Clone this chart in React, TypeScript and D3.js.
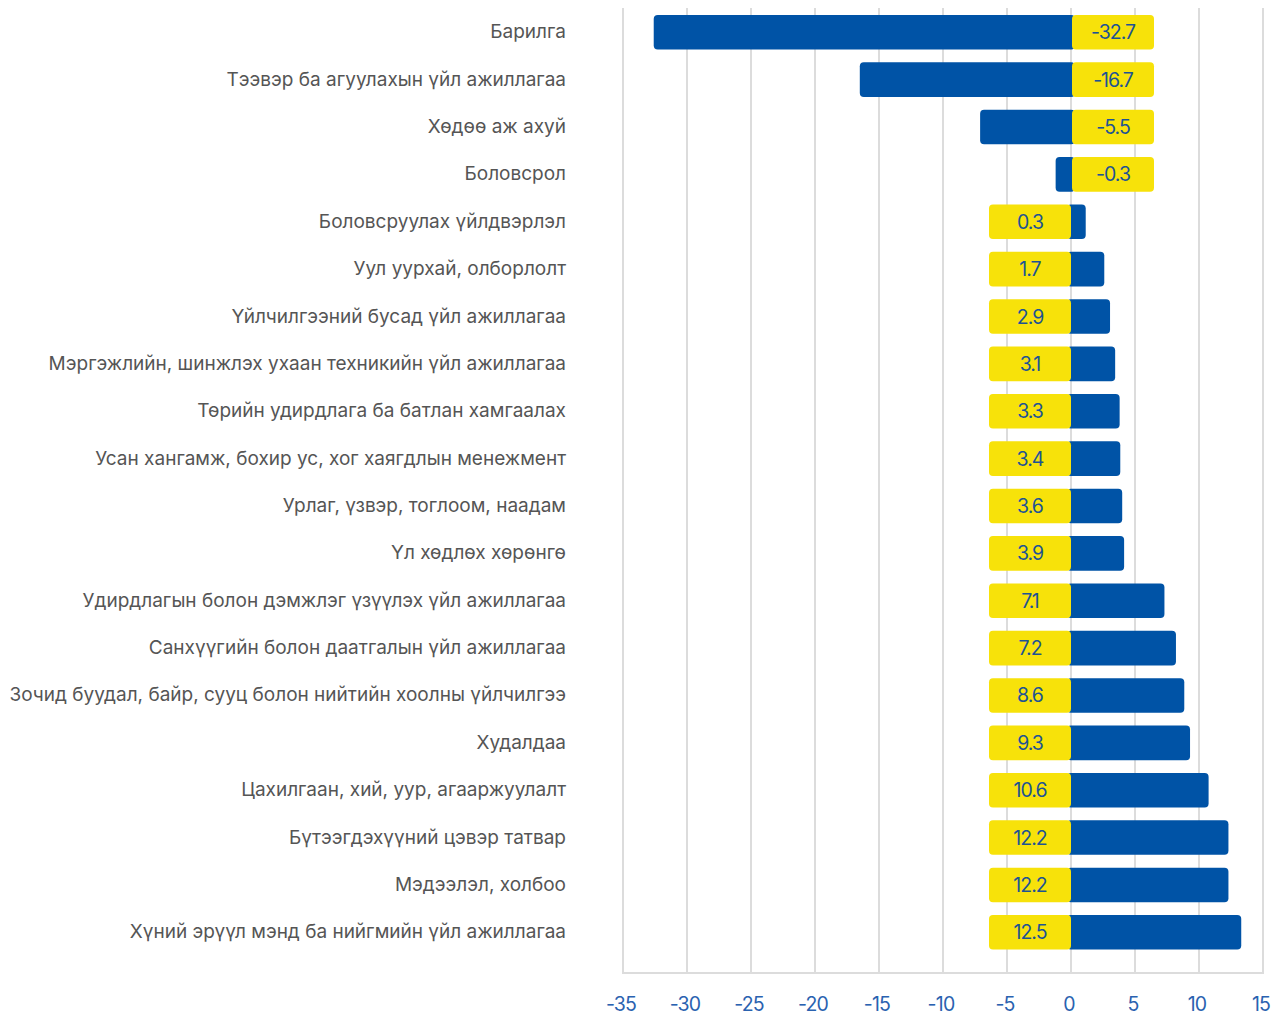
import React from "react";
import * as d3 from "d3";

const categories = [
  "Барилга",
  "Тээвэр ба агуулахын үйл ажиллагаа",
  "Хөдөө аж ахуй",
  "Боловсрол",
  "Боловсруулах үйлдвэрлэл",
  "Уул уурхай, олборлолт",
  "Үйлчилгээний бусад үйл ажиллагаа",
  "Мэргэжлийн, шинжлэх ухаан техникийн үйл ажиллагаа",
  "Төрийн удирдлага ба батлан хамгаалах",
  "Усан хангамж, бохир ус, хог хаягдлын менежмент",
  "Урлаг, үзвэр, тоглоом, наадам",
  "Үл хөдлөх хөрөнгө",
  "Удирдлагын болон дэмжлэг үзүүлэх үйл ажиллагаа",
  "Санхүүгийн болон даатгалын үйл ажиллагаа",
  "Зочид буудал, байр, сууц болон нийтийн хоолны үйлчилгээ",
  "Худалдаа",
  "Цахилгаан, хий, уур, агааржуулалт",
  "Бүтээгдэхүүний цэвэр татвар",
  "Мэдээлэл, холбоо",
  "Хүний эрүүл мэнд ба нийгмийн үйл ажиллагаа",
];

// values printed in the yellow boxes
const labelValues = [
  "-32.7", "-16.7", "-5.5", "-0.3", "0.3", "1.7", "2.9", "3.1", "3.3", "3.4",
  "3.6", "3.9", "7.1", "7.2", "8.6", "9.3", "10.6", "12.2", "12.2", "12.5",
];

// bar lengths as drawn in the picture
const barValues = [
  -32.6, -16.5, -7.1, -1.2, 1.15, 2.6, 3.05, 3.45, 3.8, 3.85,
  4.0, 4.15, 7.3, 8.2, 8.85, 9.3, 10.75, 12.3, 12.3, 13.3,
];

const xTicks = [-35, -30, -25, -20, -15, -10, -5, 0, 5, 10, 15];

const BLUE = "#0053a6";
const YELLOW = "#f7e20a";
const TEXT_BLUE = "#1d5394";
const GRID = "#dcdcdc";

export default function App() {
  const W = 1275;
  const H = 1017;
  const x = d3.scaleLinear().domain([-35, 15]).range([623, 1263]);
  const y = d3
    .scaleBand<string>()
    .domain(categories)
    .range([8.6, 956])
    .paddingInner(0.27)
    .paddingOuter(0.135);
  const bw = y.bandwidth();
  const boxW = 82;
  const r = 4;
  const plotTop = 8;
  const axisY = 973;

  return (
    <svg
      width={W}
      height={H}
      style={{ position: "absolute", left: 0, top: 0, background: "#fff" }}
      fontFamily="Inter, 'Noto Sans', sans-serif"
    >
      {xTicks.map((t) => (
        <line
          key={"g" + t}
          x1={x(t)}
          x2={x(t)}
          y1={plotTop}
          y2={axisY}
          stroke={GRID}
          strokeWidth={2}
        />
      ))}
      <line x1={x(-35) - 1} x2={x(15) + 1} y1={axisY} y2={axisY} stroke={GRID} strokeWidth={2} />
      {xTicks.map((t) => (
        <text
          key={"t" + t}
          x={x(t) - 2}
          y={1011}
          textAnchor="middle"
          fontSize={19.5}
          fill="#2a62b0"
          letterSpacing={-0.8}
        >
          {t}
        </text>
      ))}
      {categories.map((c, i) => {
        const v = barValues[i];
        const yy = y(c) as number;
        const x0 = x(0);
        const xv = x(v);
        const neg = v < 0;
        const barX = neg ? xv : x0 - 4;
        const barW = neg ? x0 + 4 - xv : xv - x0 + 4;
        const boxX = neg ? x0 + 1 : x0 - boxW;
        return (
          <g key={c}>
            <text
              x={566}
              y={yy + bw / 2 + 6}
              textAnchor="end"
              fontSize={19}
              fill="#555"
              letterSpacing={0}
            >
              {c}
            </text>
            <rect x={barX} y={yy} width={barW} height={bw} rx={r} fill={BLUE} />
            <rect x={boxX} y={yy} width={boxW} height={bw} rx={r} fill={YELLOW} />
            <text
              x={boxX + boxW / 2}
              y={yy + bw / 2 + 7}
              textAnchor="middle"
              fontSize={19.5}
              fill={TEXT_BLUE}
              letterSpacing={-1}
            >
              {labelValues[i]}
            </text>
          </g>
        );
      })}
    </svg>
  );
}
